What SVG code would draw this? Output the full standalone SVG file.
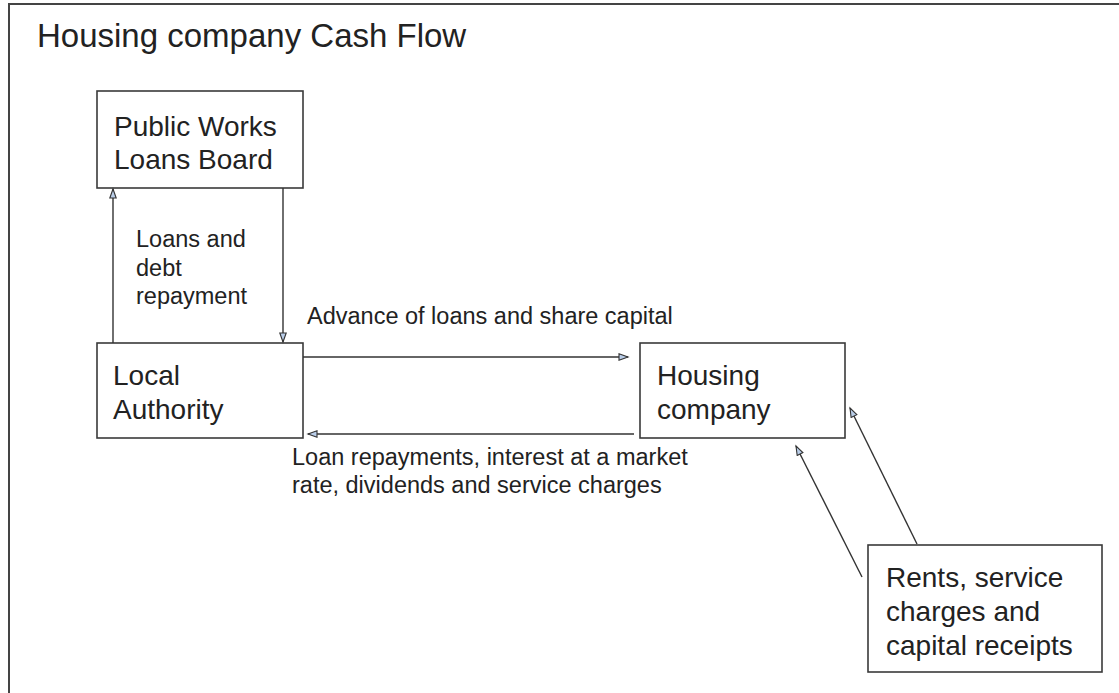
<svg xmlns="http://www.w3.org/2000/svg" width="1119" height="693" viewBox="0 0 1119 693">
  <style>
    .frame { fill: none; stroke: #444; stroke-width: 2; }
    .box { fill: #fff; stroke: #3a3a3a; stroke-width: 1.6; }
    .node-text { font-family: "Liberation Sans", Arial, sans-serif; font-size: 28px; fill: #222; }
    .label { font-family: "Liberation Sans", Arial, sans-serif; font-size: 23.5px; fill: #222; }
    .title { font-family: "Liberation Sans", Arial, sans-serif; font-size: 33px; fill: #222; }
    .flow { fill: none; stroke: #333; stroke-width: 1.4; marker-end: url(#arrow); }
  </style>
  <defs>
    <marker id="arrow" markerUnits="userSpaceOnUse" markerWidth="12" markerHeight="10" refX="10" refY="4" orient="auto">
      <path d="M1,0.8 L10,4 L1,7.2 Z" fill="#b9cde8" stroke="#333" stroke-width="1.1"/>
    </marker>
  </defs>

  <rect width="1119" height="693" fill="#fff"/>
  <!-- page border, open to the right and bottom -->
  <rect class="frame" x="9" y="4" width="1130" height="710"/>

  <text class="title" x="37" y="47">Housing company Cash Flow</text>

  <g id="public-works-loans-board">
    <rect class="box" x="97" y="91" width="206" height="97"/>
    <text class="node-text" x="114" y="136">Public Works</text>
    <text class="node-text" x="114" y="169">Loans Board</text>
  </g>

  <g id="local-authority">
    <rect class="box" x="97" y="343" width="206" height="95"/>
    <text class="node-text" x="113" y="385">Local</text>
    <text class="node-text" x="113" y="419">Authority</text>
  </g>

  <g id="housing-company">
    <rect class="box" x="640" y="343" width="205" height="95"/>
    <text class="node-text" x="657" y="385">Housing</text>
    <text class="node-text" x="657" y="419">company</text>
  </g>

  <g id="rents-receipts">
    <rect class="box" x="868" y="545" width="234" height="127"/>
    <text class="node-text" x="886" y="587">Rents, service</text>
    <text class="node-text" x="886" y="621">charges and</text>
    <text class="node-text" x="886" y="655">capital receipts</text>
  </g>

  <g id="connectors">
    <line class="flow" x1="113" y1="343" x2="113" y2="189"/>
    <line class="flow" x1="283" y1="188" x2="283" y2="342"/>
    <line class="flow" x1="303" y1="357" x2="628" y2="357"/>
    <line class="flow" x1="634" y1="434" x2="308" y2="434"/>
    <line class="flow" x1="917" y1="544" x2="850" y2="408"/>
    <line class="flow" x1="862" y1="577" x2="796" y2="446"/>
  </g>

  <g id="connector-labels">
    <text class="label" x="136" y="247">Loans and</text>
    <text class="label" x="136" y="276">debt</text>
    <text class="label" x="136" y="304">repayment</text>
    <text class="label" x="307" y="324">Advance of loans and share capital</text>
    <text class="label" x="292" y="465">Loan repayments, interest at a market</text>
    <text class="label" x="292" y="493">rate, dividends and service charges</text>
  </g>
</svg>
